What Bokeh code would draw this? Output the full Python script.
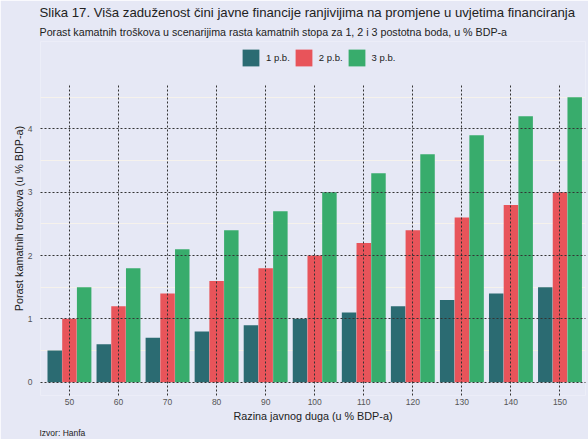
from bokeh.plotting import figure
from bokeh.models import (ColumnDataSource, Legend, LegendItem, Title, FixedTicker,
                          Grid, Range1d)
from bokeh.transform import dodge
from bokeh.embed import file_html
from bokeh.resources import INLINE

# ---- data ----
debt_levels = [50, 60, 70, 80, 90, 100, 110, 120, 130, 140, 150]
pb1 = [0.5, 0.6, 0.7, 0.8, 0.9, 1.0, 1.1, 1.2, 1.3, 1.4, 1.5]
pb2 = [1.0, 1.2, 1.4, 1.6, 1.8, 2.0, 2.2, 2.4, 2.6, 2.8, 3.0]
pb3 = [1.5, 1.8, 2.1, 2.4, 2.7, 3.0, 3.3, 3.6, 3.9, 4.2, 4.5]
series_labels = ["1 p.b.", "2 p.b.", "3 p.b."]
y_ticks = [0, 1, 2, 3, 4]
y_minor = [0.5, 1.5, 2.5, 3.5, 4.5]

title_text = "Slika 17. Viša zaduženost čini javne financije ranjivijima na promjene u uvjetima financiranja"
subtitle_text = "Porast kamatnih troškova u scenarijima rasta kamatnih stopa za 1, 2 i 3 postotna boda, u % BDP-a"
x_label = "Razina javnog duga (u % BDP-a)"
y_label = "Porast kamatnih troškova (u % BDP-a)"
source_text = "Izvor: Hanfa"

BG = "#E6E8F5"
COLORS = ["#2B6B72", "#E8545A", "#38AC6C"]
FONT = "Liberation Sans"
Y_LO, Y_GRID_TOP, Y_HI = -0.21, 4.72, 5.38

src = ColumnDataSource(dict(x=debt_levels, a=pb1, b=pb2, c=pb3))

p = figure(width=588, height=439, output_backend="svg", toolbar_location=None,
           x_range=Range1d(44.1, 155.2), y_range=Range1d(Y_LO, Y_HI),
           background_fill_color=BG, border_fill_color=BG, outline_line_color=None,
           min_border_left=40, min_border_right=3, min_border_top=41, min_border_bottom=44)
p.title.visible = False

w = 2.95
r1 = p.vbar(x=dodge("x", -3), top="a", width=w, source=src,
            fill_color=COLORS[0], line_color=None)
r2 = p.vbar(x="x", top="b", width=w, source=src,
            fill_color=COLORS[1], line_color=None)
r3 = p.vbar(x=dodge("x", 3), top="c", width=w, source=src,
            fill_color=COLORS[2], line_color=None)

# axes
p.xaxis.ticker = FixedTicker(ticks=debt_levels)
p.yaxis.ticker = FixedTicker(ticks=y_ticks)
for ax in (p.xaxis[0], p.yaxis[0]):
    ax.axis_line_color = None
    ax.major_tick_line_color = None
    ax.minor_tick_line_color = None
    ax.major_tick_out = 0
    ax.major_tick_in = 0
    ax.minor_tick_out = 0
    ax.minor_tick_in = 0
    ax.major_label_text_font = FONT
    ax.major_label_text_font_size = "8.5px"
    ax.major_label_text_color = "#555555"
    ax.axis_label_text_font = FONT
    ax.axis_label_text_font_size = "10.8px"
    ax.axis_label_text_font_style = "normal"
    ax.axis_label_text_color = "#222222"
p.xaxis.axis_label = x_label
p.yaxis.axis_label = y_label
p.xaxis.major_label_standoff = 3
p.xaxis.axis_label_standoff = 2
p.yaxis.major_label_standoff = 8
p.yaxis.axis_label_standoff = 0

# grids: dotted major on top of bars, faint minor beneath
p.xgrid.visible = False
p.ygrid.visible = False
minor = Grid(dimension=1, ticker=FixedTicker(ticks=y_minor), grid_line_color="#F6F2EC",
             grid_line_width=1, level="underlay")
p.add_layout(minor)
gx = Grid(dimension=0, ticker=FixedTicker(ticks=debt_levels), grid_line_color="#333333",
          grid_line_dash="2 2", grid_line_width=1, level="overlay",
          cross_bounds=(Y_LO, Y_GRID_TOP))
gy = Grid(dimension=1, ticker=FixedTicker(ticks=y_ticks), grid_line_color="#333333",
          grid_line_dash="2 2", grid_line_width=1, level="overlay")
p.add_layout(gx)
p.add_layout(gy)

# legend inside the (extended) frame, at the top
legend = Legend(items=[LegendItem(label=series_labels[0], renderers=[r1]),
                       LegendItem(label=series_labels[1], renderers=[r2]),
                       LegendItem(label=series_labels[2], renderers=[r3])],
                orientation="horizontal", location=(200, 327),
                glyph_width=21, glyph_height=21, label_standoff=5, spacing=3,
                label_text_font=FONT, label_text_font_size="9.5px", label_text_color="#222222",
                background_fill_alpha=0, border_line_color=None, padding=0, margin=0)
p.add_layout(legend, "center")
p.add_layout(Title(text=subtitle_text, text_font=FONT, text_font_size="10.7px",
                   text_font_style="normal", text_color="#222222", align="left",
                   offset=-1, standoff=7), "above")
p.add_layout(Title(text=title_text, text_font=FONT, text_font_size="13.2px",
                   text_font_style="normal", text_color="#222222", align="left",
                   offset=-1, standoff=2), "above")
p.add_layout(Title(text=source_text, text_font=FONT, text_font_size="8.5px",
                   text_font_style="normal", text_color="#222222", align="left",
                   offset=-1, standoff=2), "below")

open("out.html", "w").write(file_html(p, INLINE))
